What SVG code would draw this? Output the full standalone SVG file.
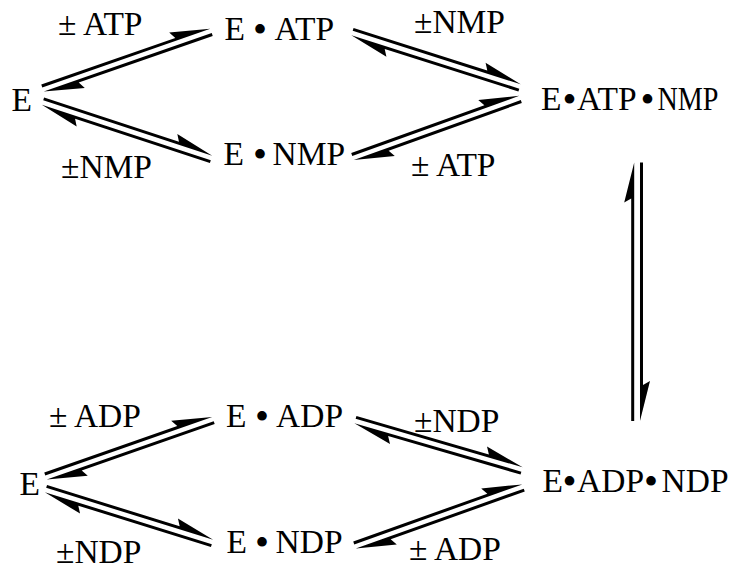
<svg xmlns="http://www.w3.org/2000/svg" width="731" height="570" viewBox="0 0 731 570">
<style>
text{font-family:"Liberation Serif","Times New Roman",serif;font-size:33.5px;fill:#000}
.b{font-size:40px}
.conn path{fill:#000;stroke:none}
</style>
<rect width="731" height="570" fill="#fff"/>
<g id="connectors" class="conn">
<g id="c-E-EATP" transform="translate(43,89.5) rotate(-19.2)">
<path d="M0,-2.25 H177.9 L137.9,-12.25 L141.9,-5.25 H0 Z"/>
<path d="M177.9,2.25 V5.25 H36 L40,12.25 L0,2.25 Z"/>
</g>
<g id="c-E-ENMP" transform="translate(42.5,102.5) rotate(18.18)">
<path d="M0,-2.25 H177.9 L137.9,-12.25 L141.9,-5.25 H0 Z"/>
<path d="M177.9,2.25 V5.25 H36 L40,12.25 L0,2.25 Z"/>
</g>
<g id="c-EATP-EATPNMP" transform="translate(352,33) rotate(17.66)">
<path d="M0,-2.25 H176.3 L136.3,-12.25 L140.3,-5.25 H0 Z"/>
<path d="M176.3,2.25 V5.25 H36 L40,12.25 L0,2.25 Z"/>
</g>
<g id="c-ENMP-EATPNMP" transform="translate(353,158) rotate(-19.77)">
<path d="M0,-2.25 H177.5 L137.5,-12.25 L141.5,-5.25 H0 Z"/>
<path d="M177.5,2.25 V5.25 H36 L40,12.25 L0,2.25 Z"/>
</g>
<g id="c-vertical" transform="translate(637.1,162.5) rotate(90)">
<path d="M0,-2.9 H258.5 L218.5,-12.9 L222.5,-5.9 H0 Z"/>
<path d="M258.5,2.9 V5.9 H36 L40,12.9 L0,2.9 Z"/>
</g>
<g id="c-E-EADP" transform="translate(46,477.5) rotate(-19.3)">
<path d="M0,-2.25 H176.9 L136.9,-12.25 L140.9,-5.25 H0 Z"/>
<path d="M176.9,2.25 V5.25 H36 L40,12.25 L0,2.25 Z"/>
</g>
<g id="c-E-ENDP" transform="translate(45.5,490) rotate(17.3)">
<path d="M0,-2.25 H174.9 L134.9,-12.25 L138.9,-5.25 H0 Z"/>
<path d="M174.9,2.25 V5.25 H36 L40,12.25 L0,2.25 Z"/>
</g>
<g id="c-EADP-EADPNDP" transform="translate(355,421) rotate(16.19)">
<path d="M0,-2.25 H173.9 L133.9,-12.25 L137.9,-5.25 H0 Z"/>
<path d="M173.9,2.25 V5.25 H36 L40,12.25 L0,2.25 Z"/>
</g>
<g id="c-ENDP-EADPNDP" transform="translate(355,546.5) rotate(-19.65)">
<path d="M0,-2.25 H178.4 L138.4,-12.25 L142.4,-5.25 H0 Z"/>
<path d="M178.4,2.25 V5.25 H36 L40,12.25 L0,2.25 Z"/>
</g>
</g>
<g id="label-top-atp"><text x="58" y="35">± ATP</text></g>
<g id="node-E-ATP"><text y="40"><tspan x="224.5">E</tspan> <tspan class="b" x="253" y="42.5">•</tspan> <tspan x="274.5" y="40">ATP</tspan></text></g>
<g id="label-top-nmp"><text x="414" y="33">±NMP</text></g>
<g id="node-E-top"><text x="11.5" y="111">E</text></g>
<g id="label-top-nmp2"><text x="61" y="178">±NMP</text></g>
<g id="node-E-NMP"><text y="165"><tspan x="223.5">E</tspan> <tspan class="b" x="253" y="167.5">•</tspan> <tspan x="272.5" y="165">NMP</tspan></text></g>
<g id="label-top-atp2"><text x="411" y="176">± ATP</text></g>
<g id="node-E-ATP-NMP"><text y="110"><tspan x="541">E</tspan><tspan class="b" x="562.5" y="112.5">•</tspan><tspan x="577" y="110">ATP</tspan><tspan class="b" x="640.5" y="112.5">•</tspan><tspan x="657.5" y="110" textLength="61" lengthAdjust="spacingAndGlyphs">NMP</tspan></text></g>
<g id="label-bot-adp"><text x="49" y="427">± ADP</text></g>
<g id="node-E-ADP"><text y="427"><tspan x="226">E</tspan> <tspan class="b" x="255" y="429.5">•</tspan> <tspan x="276" y="427">ADP</tspan></text></g>
<g id="label-bot-ndp"><text x="414" y="432">±NDP</text></g>
<g id="node-E-bot"><text x="19.5" y="495">E</text></g>
<g id="label-bot-ndp2"><text x="56" y="562.5">±NDP</text></g>
<g id="node-E-NDP"><text y="553"><tspan x="226.5">E</tspan> <tspan class="b" x="255" y="555.5">•</tspan> <tspan x="275.5" y="553">NDP</tspan></text></g>
<g id="label-bot-adp2"><text x="409" y="560">± ADP</text></g>
<g id="node-E-ADP-NDP"><text y="492"><tspan x="542.5">E</tspan><tspan class="b" x="562.5" y="494.5">•</tspan><tspan x="577" y="492">ADP</tspan><tspan class="b" x="644" y="494.5">•</tspan> <tspan x="661.5" y="492">NDP</tspan></text></g>
</svg>
